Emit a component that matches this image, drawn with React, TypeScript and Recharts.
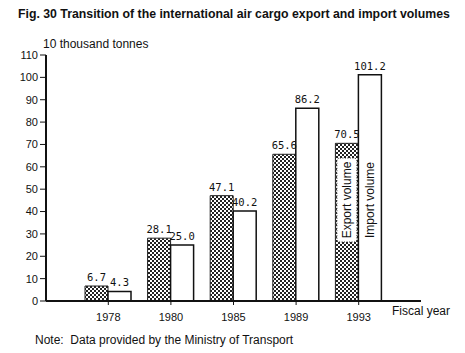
import { Bar, BarChart, LabelList, XAxis, YAxis } from "recharts";

const years = ["1978", "1980", "1985", "1989", "1993"];
const exportVolume = [6.7, 28.1, 47.1, 65.6, 70.5];
const importVolume = [4.3, 25.0, 40.2, 86.2, 101.2];
const yTicks = [0, 10, 20, 30, 40, 50, 60, 70, 80, 90, 100, 110];

const data = years.map((year, i) => ({
  year,
  exportVolume: exportVolume[i],
  importVolume: importVolume[i],
}));

const labelFont = "'DejaVu Sans Mono', monospace";
const axisFont = "'Liberation Sans Narrow', 'Liberation Sans', Arial, sans-serif";

type LabelProps = {
  x?: number;
  y?: number;
  width?: number;
  height?: number;
  value?: number;
  index?: number;
};

const valueLabel = (props: LabelProps) => {
  const { x = 0, y = 0, width = 0, value = 0 } = props;
  return (
    <text
      x={x + width / 2}
      y={y - 5}
      textAnchor="middle"
      fontFamily={labelFont}
      fontSize={10.5}
      fill="#111"
    >
      {value.toFixed(1)}
    </text>
  );
};

// series names are written inside the last pair of bars
const seriesName = (name: string, boxed: boolean) => (props: LabelProps) => {
  const { x = 0, y = 0, width = 0, height = 0, index } = props;
  if (index !== years.length - 1) return null;
  const cx = x + width / 2;
  const cy = y + height - 101;
  return (
    <g>
      {boxed && (
        <rect
          x={cx - 10}
          y={cy - 42}
          width={20}
          height={84}
          rx={3}
          fill="#fff"
          stroke="#222"
          strokeDasharray="1 1.5"
        />
      )}
      <text
        x={cx}
        y={cy}
        transform={`rotate(-90 ${cx} ${cy})`}
        textAnchor="middle"
        dominantBaseline="central"
        fontFamily="'Liberation Sans', Arial, sans-serif"
        fontSize={12}
        fill="#111"
      >
        {name}
      </text>
    </g>
  );
};

export default function App() {
  return (
    <div
      style={{
        position: "absolute",
        left: 0,
        top: 0,
        width: 465,
        height: 353,
        background: "#fff",
        fontFamily: "'Liberation Sans', Arial, sans-serif",
        color: "#111",
      }}
    >
      <div
        style={{
          position: "absolute",
          left: 18,
          top: 7,
          fontSize: 12.3,
          fontWeight: "bold",
          whiteSpace: "nowrap",
        }}
      >
        Fig. 30 Transition of the international air cargo export and import volumes
      </div>
      <div style={{ position: "absolute", left: 43, top: 37, fontSize: 12 }}>
        10 thousand tonnes
      </div>
      <div style={{ position: "absolute", left: 392, top: 304, fontSize: 12 }}>
        Fiscal year
      </div>
      <div style={{ position: "absolute", left: 35, top: 333, fontSize: 12, whiteSpace: "pre" }}>
        {"Note:  Data provided by the Ministry of Transport"}
      </div>

      <BarChart
        width={465}
        height={353}
        data={data}
        margin={{ top: 55, right: 44, bottom: 0, left: 0 }}
        barGap={0}
        barSize={23}
      >
        <defs>
          <pattern id="checker" width="4" height="4" patternUnits="userSpaceOnUse">
            <rect width="4" height="4" fill="#fff" />
            <rect width="2" height="2" fill="#222" />
            <rect x="2" y="2" width="2" height="2" fill="#222" />
          </pattern>
        </defs>
        <XAxis
          dataKey="year"
          height={52}
          padding={{ left: 31, right: 31 }}
          axisLine={{ stroke: "#111", strokeWidth: 2 }}
          tickLine={{ stroke: "#111" }}
          tickSize={4}
          tickMargin={8}
          tick={{ fill: "#111", fontSize: 11, fontFamily: axisFont }}
        />
        <XAxis
          xAxisId="top"
          orientation="top"
          dataKey="year"
          height={0}
          tick={false}
          tickLine={false}
          axisLine={{ stroke: "#111", strokeWidth: 2 }}
        />
        <YAxis
          width={46}
          domain={[0, 110]}
          ticks={yTicks}
          interval={0}
          axisLine={{ stroke: "#111", strokeWidth: 2 }}
          tickLine={{ stroke: "#111" }}
          tickSize={6}
          tickMargin={2}
          tick={{ fill: "#111", fontSize: 11, fontFamily: axisFont }}
        />
        <YAxis
          yAxisId="right"
          orientation="right"
          width={0}
          domain={[0, 110]}
          tick={false}
          tickLine={false}
          axisLine={{ stroke: "#111", strokeWidth: 2 }}
        />
        <Bar
          dataKey="exportVolume"
          fill="url(#checker)"
          stroke="#222"
          strokeWidth={1}
          isAnimationActive={false}
        >
          <LabelList dataKey="exportVolume" content={valueLabel} />
          <LabelList dataKey="exportVolume" content={seriesName("Export volume", true)} />
        </Bar>
        <Bar
          dataKey="importVolume"
          fill="#fff"
          stroke="#111"
          strokeWidth={1.5}
          isAnimationActive={false}
        >
          <LabelList dataKey="importVolume" content={valueLabel} />
          <LabelList dataKey="importVolume" content={seriesName("Import volume", false)} />
        </Bar>
      </BarChart>
    </div>
  );
}
